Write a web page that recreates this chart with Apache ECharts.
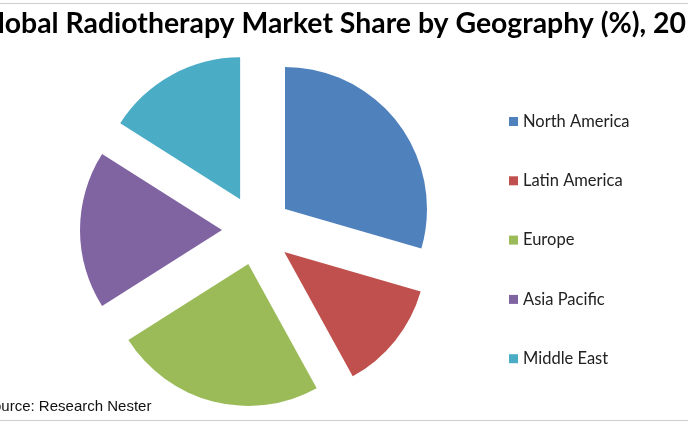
<!DOCTYPE html>
<html>
<head>
<meta charset="utf-8">
<script src="https://cdn.jsdelivr.net/npm/echarts@6/dist/echarts.min.js"></script>
<style>
html,body{margin:0;padding:0;background:#fff;}
#chart{width:688px;height:424px;}
</style>
</head>
<body>
<div id="chart"></div>
<script>
var categories = ['North America', 'Latin America', 'Europe', 'Asia Pacific', 'Middle East'];
var shares = [29.5, 12.5, 24, 18, 16];
var colors = ['#4F81BD', '#C0504D', '#9BBB59', '#8064A2', '#4BACC6'];
var titleText = 'Global Radiotherapy Market Share by Geography (%), 20';
var sourceText = 'Source: Research Nester';

var chart = echarts.init(document.getElementById('chart'), null, {renderer: 'canvas'});
var data = categories.map(function (c, i) {
  return {name: c, value: shares[i], selected: true, itemStyle: {color: colors[i]}};
});
chart.setOption({
  animation: false,
  backgroundColor: '#fff',
  legend: {
    orient: 'vertical',
    left: 509,
    top: 113,
    padding: 0,
    itemWidth: 9,
    itemHeight: 9,
    itemGap: 42.3,
    icon: 'rect',
    selectedMode: false,
    textStyle: {fontFamily: 'Lato', fontSize: 16.5, color: '#222', lineHeight: 16},
    data: categories
  },
  graphic: [
    {type: 'line', shape: {x1: 0, y1: 3.5, x2: 688, y2: 3.5}, style: {stroke: '#cfcfcf', lineWidth: 1}},
    {type: 'line', shape: {x1: 0, y1: 420.5, x2: 688, y2: 420.5}, style: {stroke: '#cfcfcf', lineWidth: 1}},
    {type: 'text', right: 2, top: 10, style: {text: titleText, font: 'bold 28.4px Lato', fill: '#000'}},
    {type: 'text', left: -17, top: 399, style: {text: sourceText, font: '15px "Liberation Sans", Arial', fill: '#111'}}
  ],
  series: [{
    type: 'pie',
    center: [257, 230],
    radius: [0, 142],
    startAngle: 90,
    clockwise: true,
    selectedMode: 'multiple',
    selectedOffset: 35,
    label: {show: false},
    labelLine: {show: false},
    emphasis: {disabled: true},
    itemStyle: {borderWidth: 0},
    data: data
  }]
});
</script>
</body>
</html>
